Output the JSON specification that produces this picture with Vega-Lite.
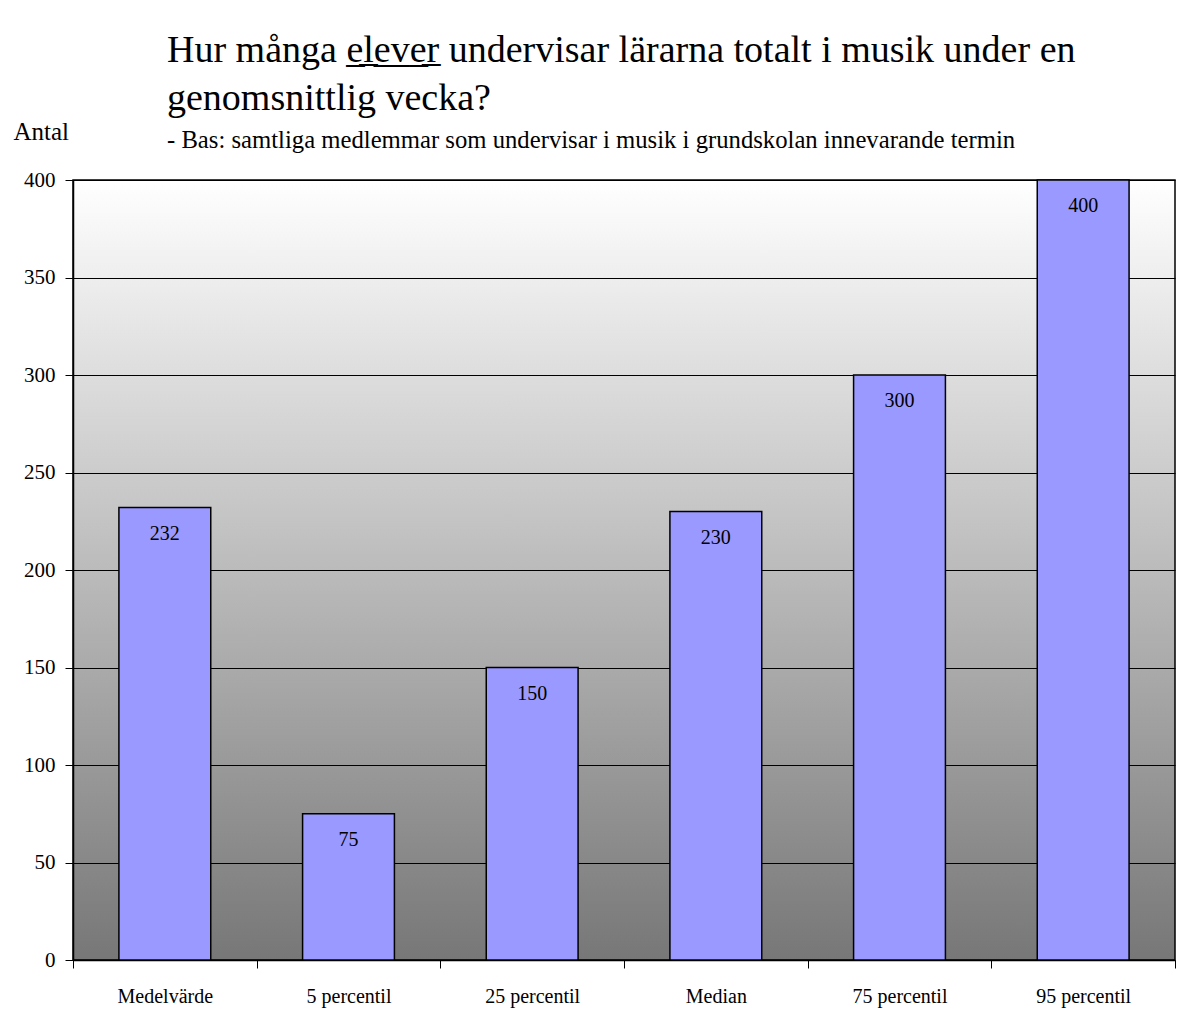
{
  "$schema": "https://vega.github.io/schema/vega-lite/v6.json",
  "width": 1102,
  "height": 780,
  "autosize": {"type": "none"},
  "padding": {"left": 73, "top": 180, "right": 7, "bottom": 70},
  "background": "white",
  "title": {
    "text": ["Hur många e̲l̲e̲v̲e̲r̲ undervisar lärarna totalt i musik under en", "genomsnittlig vecka?"],
    "subtitle": "- Bas: samtliga medlemmar som undervisar i musik i grundskolan innevarande termin",
    "anchor": "start",
    "frame": "group",
    "dx": 94,
    "offset": -34,
    "font": "Liberation Serif",
    "fontSize": 38,
    "fontWeight": "normal",
    "lineHeight": 48,
    "color": "black",
    "subtitleFont": "Liberation Serif",
    "subtitleFontSize": 24.7,
    "subtitleColor": "black",
    "subtitlePadding": 10
  },
  "config": {
    "view": {
      "stroke": "black",
      "strokeWidth": 1.5,
      "fill": {
        "gradient": "linear",
        "x1": 0, "y1": 0, "x2": 0, "y2": 1,
        "stops": [
          {"offset": 0, "color": "#ffffff"},
          {"offset": 1, "color": "#777777"}
        ]
      }
    },
    "axis": {
      "labelFont": "Liberation Serif",
      "titleFont": "Liberation Serif",
      "labelFontSize": 20,
      "titleFontSize": 25,
      "titleFontWeight": "normal",
      "labelColor": "black",
      "titleColor": "black",
      "domainColor": "black",
      "tickColor": "black",
      "gridColor": "black",
      "gridOpacity": 1
    }
  },
  "data": {
    "values": [
      {"kategori": "Medelvärde", "antal": 232},
      {"kategori": "5 percentil", "antal": 75},
      {"kategori": "25 percentil", "antal": 150},
      {"kategori": "Median", "antal": 230},
      {"kategori": "75 percentil", "antal": 300},
      {"kategori": "95 percentil", "antal": 400}
    ]
  },
  "encoding": {
    "x": {
      "field": "kategori",
      "type": "nominal",
      "sort": null,
      "scale": {"paddingInner": 0, "paddingOuter": 0},
      "axis": {
        "title": null,
        "labelAngle": 0,
        "tickBand": "extent",
        "tickSize": 8,
        "labelPadding": 18,
        "domainWidth": 1.5,
        "grid": false
      }
    },
    "y": {
      "field": "antal",
      "type": "quantitative",
      "scale": {"domain": [0, 400], "nice": false},
      "axis": {
        "title": "Antal",
        "titleAngle": 0,
        "titleAlign": "left",
        "titleBaseline": "alphabetic",
        "titleX": -60,
        "titleY": -41,
        "values": [0, 50, 100, 150, 200, 250, 300, 350, 400],
        "labelFontSize": 21,
        "tickSize": 8,
        "labelPadding": 10,
        "grid": true,
        "domainWidth": 1.5
      }
    }
  },
  "layer": [
    {
      "mark": {"type": "bar", "width": {"band": 0.5}, "fill": "#9999ff", "stroke": "black", "strokeWidth": 1.5}
    },
    {
      "mark": {"type": "text", "font": "Liberation Serif", "fontSize": 20, "baseline": "middle", "dy": 26, "color": "black"},
      "encoding": {"text": {"field": "antal", "type": "quantitative"}}
    }
  ]
}
